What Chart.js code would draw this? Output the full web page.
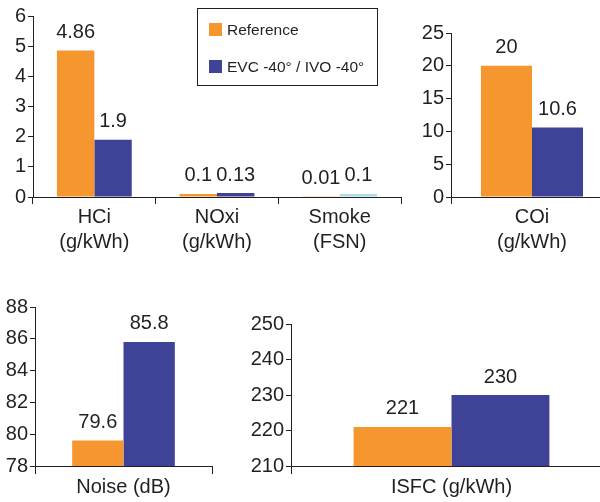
<!DOCTYPE html>
<html>
<head>
<meta charset="utf-8">
<script src="https://cdn.jsdelivr.net/npm/chart.js@4.4.1/dist/chart.umd.min.js"></script>
<style>
  html, body { margin:0; padding:0; background:#fff; width:600px; height:502px; overflow:hidden; position:relative; }
  canvas { position:absolute; }
  #legend { position:absolute; left:197px; top:8px; width:179px; height:76px; border:1px solid #231f20;
            font-family:"Liberation Sans", Arial, sans-serif; font-size:15.5px; color:#231f20; }
  .item { position:absolute; left:11px; height:14px; line-height:14px; white-space:nowrap; }
  .sw { display:inline-block; width:13px; height:13px; vertical-align:top; margin-right:5px; }
</style>
</head>
<body>
<canvas id="c1" width="420" height="260" style="left:0;top:0"></canvas>
<canvas id="c2" width="220" height="260" style="left:400px;top:0"></canvas>
<canvas id="c3" width="220" height="222" style="left:0;top:280px"></canvas>
<canvas id="c4" width="380" height="222" style="left:240px;top:280px"></canvas>
<div id="legend">
  <div class="item" style="top:14px"><span class="sw" style="background:#F5962F"></span>Reference</div>
  <div class="item" style="top:51px"><span class="sw" style="background:#3F4397"></span>EVC -40° / IVO -40°</div>
</div>
<script>
// ---- data ----
const seriesNames = ['Reference', 'EVC -40° / IVO -40°'];
const topCategories = [['HCi', '(g/kWh)'], ['NOxi', '(g/kWh)'], ['Smoke', '(FSN)']];
const topReference = [4.86, 0.1, 0.01];
const topEVC = [1.9, 0.13, 0.1];
const topTicks = [0, 1, 2, 3, 4, 5, 6];

const coCategories = [['COi', '(g/kWh)']];
const coReference = [20];
const coEVC = [10.6];
const coTicks = [0, 5, 10, 15, 20, 25];

const noiseCategories = ['Noise (dB)'];
const noiseReference = [79.6];
const noiseEVC = [85.8];
const noiseTicks = [78, 80, 82, 84, 86, 88];

const isfcCategories = ['ISFC (g/kWh)'];
const isfcReference = [221];
const isfcEVC = [230];
const isfcTicks = [210, 220, 230, 240, 250];

// ---- style ----
const ORANGE = '#F5962F', BLUE = '#3F4397', LIGHTBLUE = '#A8DCE8', INK = '#231f20';
const FONT = '"Liberation Sans", Arial, sans-serif';

const valueLabels = {
  id: 'valueLabels',
  afterDatasetsDraw(chart) {
    const ctx = chart.ctx;
    ctx.save();
    ctx.font = '20px ' + FONT;
    ctx.fillStyle = INK;
    ctx.textAlign = 'center';
    ctx.textBaseline = 'middle';
    chart.data.datasets.forEach((ds, di) => {
      chart.getDatasetMeta(di).data.forEach((el, i) => {
        const v = ds.data[i];
        ctx.fillText(String(v), el.x, el.y - 18);
      });
    });
    ctx.restore();
  }
};

function makeChart(id, cats, ref, evc, ticks, evcColors, box) {
  const tmin = ticks[0], tmax = ticks[ticks.length - 1];
  const step = ticks[1] - ticks[0];
  return new Chart(document.getElementById(id), {
    type: 'bar',
    data: {
      labels: cats,
      datasets: [
        { label: seriesNames[0], data: ref, backgroundColor: ORANGE, borderWidth: 0,
          barPercentage: 1, categoryPercentage: box.cat },
        { label: seriesNames[1], data: evc, backgroundColor: evcColors, borderWidth: 0,
          barPercentage: 1, categoryPercentage: box.cat }
      ]
    },
    options: {
      responsive: false,
      devicePixelRatio: 1,
      animation: false,
      layout: { padding: { top: box.top, right: box.right, left: 0, bottom: 0 } },
      plugins: { legend: { display: false }, tooltip: { enabled: false } },
      scales: {
        x: {
          type: 'category',
          offset: true,
          grid: { display: true, offset: true, drawOnChartArea: false, drawTicks: true,
                  tickLength: box.xTick, color: INK, lineWidth: 1 },
          border: { display: true, color: INK, width: 1 },
          ticks: { color: INK, font: { family: FONT, size: 20, lineHeight: 1.25 }, padding: 1,
                   maxRotation: 0, autoSkip: false },
          afterFit: s => { s.height = box.xh; }
        },
        y: {
          min: tmin, max: tmax,
          afterBuildTicks: s => { s.ticks = ticks.map(v => ({ value: v })); },
          grid: { display: true, drawOnChartArea: false, drawTicks: true, tickLength: 5,
                  color: INK, lineWidth: 1 },
          border: { display: true, color: INK, width: 1 },
          ticks: { color: INK, font: { family: FONT, size: 20 }, padding: 2, stepSize: step },
          afterFit: s => { s.width = box.yw; }
        }
      }
    },
    plugins: [valueLabels]
  });
}

makeChart('c1', topCategories, topReference, topEVC, topTicks,
  [BLUE, BLUE, LIGHTBLUE], { top: 16, right: 19, yw: 33, xh: 63, xTick: 7, cat: 0.61 });
makeChart('c2', coCategories, coReference, coEVC, coTicks,
  [BLUE], { top: 33, right: 7, yw: 51, xh: 63, xTick: 7, cat: 0.63 });
makeChart('c3', noiseCategories, noiseReference, noiseEVC, noiseTicks,
  [BLUE], { top: 27, right: 8, yw: 35, xh: 36, xTick: 8, cat: 0.58 });
makeChart('c4', isfcCategories, isfcReference, isfcEVC, isfcTicks,
  [BLUE], { top: 44, right: 8, yw: 51, xh: 36, xTick: 8, cat: 0.61 });
</script>
</body>
</html>
